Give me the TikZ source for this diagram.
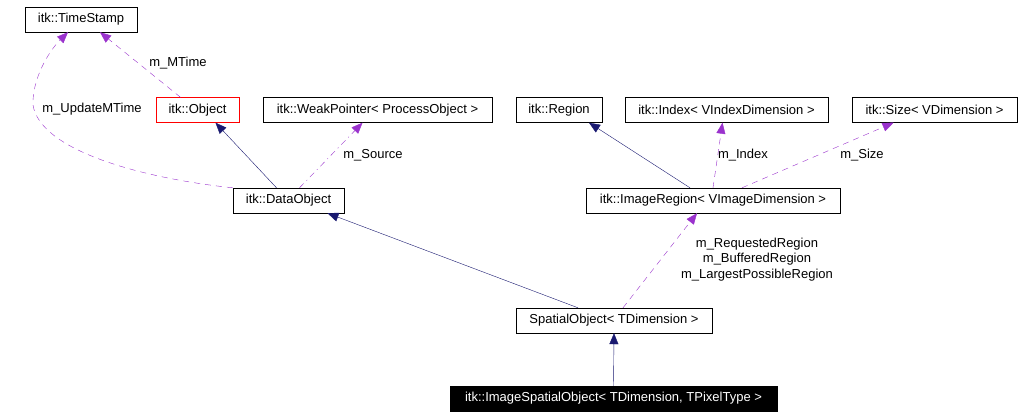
\documentclass[tikz,border=0pt]{standalone}
\usepackage{fontspec}
\setmainfont{Liberation Sans}
\usetikzlibrary{arrows.meta}
\usetikzlibrary{positioning}
\definecolor{edgenavy}{HTML}{191970}
\definecolor{edgepurple}{HTML}{9A32CD}

\begin{document}
\begin{tikzpicture}[x=1pt,y=-1pt,
    cls/.style={draw,fill=white,minimum height=25pt,inner sep=0pt,font=\fontsize{13}{15}\selectfont},
    inh/.style={draw=edgenavy,-{Triangle[length=11pt,width=9pt]}},
    usage/.style={draw=edgepurple,dash pattern=on 6pt off 5pt,-{Triangle[length=11pt,width=9pt]}},
    lbl/.style={font=\fontsize{13}{15.5}\selectfont,inner sep=0pt}]
    \useasboundingbox (0,0) rectangle (1020,416);

    % classes
    \node[cls,minimum width=112pt] (timestamp) at (81,19.5) {itk::TimeStamp};
    \node[cls,minimum width=83pt,draw=red] (object) at (197.5,110) {itk::Object};
    \node[cls,minimum width=229pt] (weakptr) at (377.5,110) {itk::WeakPointer< ProcessObject >};
    \node[cls,minimum width=86pt] (region) at (559,110) {itk::Region};
    \node[cls,minimum width=203pt] (index) at (726.5,110) {itk::Index< VIndexDimension >};
    \node[cls,minimum width=165pt] (size) at (934.5,110) {itk::Size< VDimension >};
    \node[cls,minimum width=111pt] (dataobj) at (288.5,200.5) {itk::DataObject};
    \node[cls,minimum width=254pt] (imgregion) at (713,200.5) {itk::ImageRegion< VImageDimension >};
    \node[cls,minimum width=196pt] (spatialobj) at (614,320.5) {SpatialObject< TDimension >};
    \node[cls,minimum width=327pt,fill=black,text=white] (imgspatialobj) at (613.5,398.5) {itk::ImageSpatialObject< TDimension, TPixelType >};

    % inheritance
    \draw[inh] ([xshift=-12pt]dataobj.north) -- ([xshift=18pt]object.south);
    \draw[inh] ([xshift=-36pt]spatialobj.north) -- ([xshift=39pt]dataobj.south);
    \draw[inh] ([xshift=-23pt]imgregion.north) -- ([xshift=30pt]region.south);
    \draw[inh] (imgspatialobj.north) -- (spatialobj.south);

    % members
    \draw[usage] (dataobj.north west) .. controls (140,178) and (40,150) .. (33,105)
        .. controls (32,80) and (48,52) .. ([xshift=-13pt]timestamp.south);
    \node[lbl] (updatemtime) at (92,109) {m\_UpdateMTime};
    \draw[usage] ([xshift=-17pt]object.north) -- ([xshift=19pt]timestamp.south);
    \node[lbl] (mtime) at (178,63) {m\_MTime};
    \draw[usage,dash pattern=on 6pt off 4pt on 1pt off 4pt] ([xshift=11pt]dataobj.north) -- ([xshift=-15pt]weakptr.south);
    \node[lbl] (source) at (373,155) {m\_Source};
    \draw[usage] (imgregion.north) -- ([xshift=-4pt]index.south);
    \node[lbl] (idx) at (743,155) {m\_Index};
    \draw[usage] ([xshift=29pt]imgregion.north) -- ([xshift=-41pt]size.south);
    \node[lbl] (sz) at (862,155) {m\_Size};
    \draw[usage] ([xshift=9pt]spatialobj.north) -- ([xshift=-16pt]imgregion.south);
    \node[lbl,align=center] (regions) at (757,259.5) {m\_RequestedRegion\\m\_BufferedRegion\\m\_LargestPossibleRegion};
\end{tikzpicture}
\end{document}
